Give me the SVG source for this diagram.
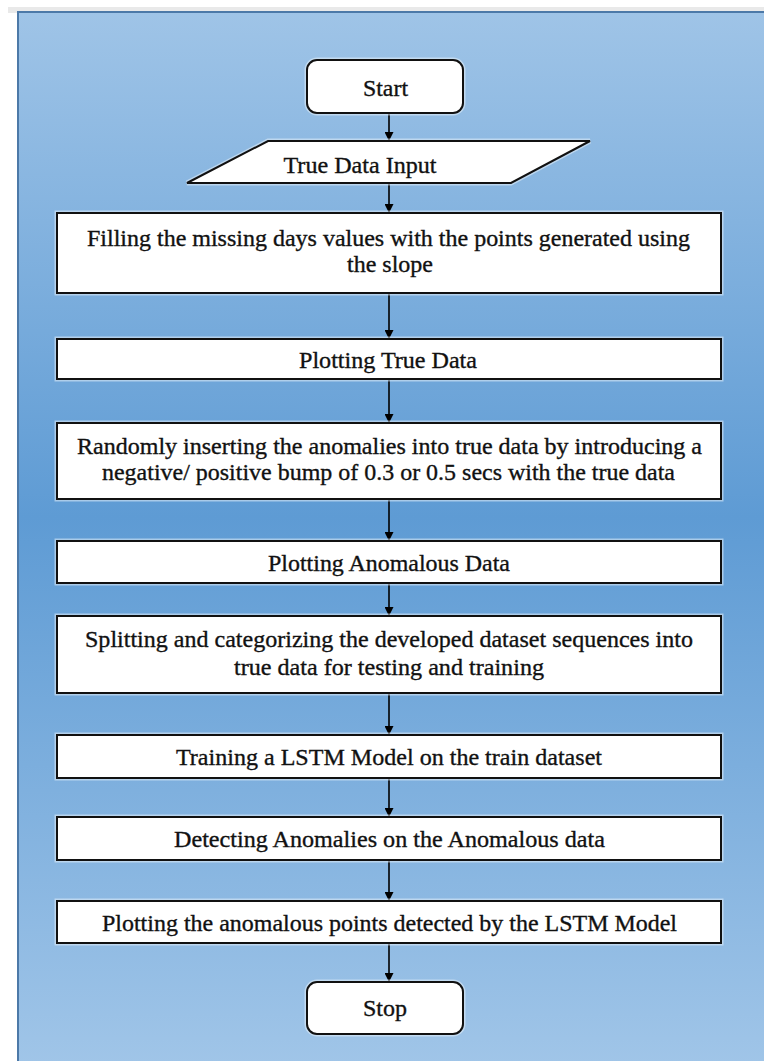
<svg xmlns="http://www.w3.org/2000/svg" width="764" height="1061" viewBox="0 0 764 1061">
  <defs>
    <linearGradient id="bg" x1="0" y1="0" x2="0" y2="1">
      <stop offset="0" stop-color="#9fc4e7"/>
      <stop offset="0.48" stop-color="#5e9bd4"/>
      <stop offset="1" stop-color="#a0c5e8"/>
    </linearGradient>
    <marker id="arr" viewBox="0 0 10 10" refX="10" refY="5" markerWidth="9" markerHeight="9" markerUnits="userSpaceOnUse" orient="auto">
      <path d="M0,0 L10,5 L0,10 z" fill="#000"/>
    </marker>
  </defs>
  <style>
    .box { fill: #ffffff; stroke: #111111; stroke-width: 2; }
    .halo { fill: none; stroke: #e6f0fa; stroke-width: 5; stroke-opacity: 0.55; }
    .lbl { font-family: "Liberation Serif", "Times New Roman", serif; font-size: 24px; fill: #111111; stroke: #111111; stroke-width: 0.35; text-anchor: middle; }
    .conn { stroke: #000; stroke-width: 1.6; fill: none; marker-end: url(#arr); }
  </style>
  <rect x="0" y="0" width="764" height="1061" fill="#ffffff"/>
  <rect x="8" y="7" width="756" height="6" fill="#e9e9e9"/>
  <rect x="18" y="12" width="748" height="1052" fill="url(#bg)" stroke="#4c79a8" stroke-width="2"/>

  <g id="connectors">
    <line class="conn" x1="389" y1="113" x2="389" y2="141"/>
    <line class="conn" x1="389" y1="183" x2="389" y2="213"/>
    <line class="conn" x1="389" y1="293" x2="389" y2="339"/>
    <line class="conn" x1="389" y1="379" x2="389" y2="423"/>
    <line class="conn" x1="389" y1="499" x2="389" y2="541"/>
    <line class="conn" x1="389" y1="583" x2="389" y2="616"/>
    <line class="conn" x1="389" y1="693" x2="389" y2="735"/>
    <line class="conn" x1="389" y1="778" x2="389" y2="817"/>
    <line class="conn" x1="389" y1="860" x2="389" y2="901"/>
    <line class="conn" x1="389" y1="943" x2="389" y2="982"/>
  </g>

  <g id="start">
    <rect class="halo" x="307" y="60" width="156" height="53" rx="10"/>
    <rect class="box" x="307" y="60" width="156" height="53" rx="10"/>
    <text class="lbl" x="385.5" y="96" textLength="45" lengthAdjust="spacingAndGlyphs">Start</text>
  </g>

  <g id="input">
    <polygon class="halo" points="268,141 590,141 511,183 187,183"/>
    <polygon class="box" points="268,141 590,141 511,183 187,183"/>
    <text class="lbl" x="360" y="172.5" textLength="153" lengthAdjust="spacingAndGlyphs">True Data Input</text>
  </g>

  <g id="fill-missing">
    <rect class="halo" x="57" y="213" width="664" height="80"/>
    <rect class="box" x="57" y="213" width="664" height="80"/>
    <text class="lbl" x="388.5" y="245.5" textLength="603" lengthAdjust="spacingAndGlyphs">Filling the missing days values with the points generated using</text>
    <text class="lbl" x="390" y="271.5" textLength="86" lengthAdjust="spacingAndGlyphs">the slope</text>
  </g>

  <g id="plot-true">
    <rect class="halo" x="57" y="339" width="664" height="40"/>
    <rect class="box" x="57" y="339" width="664" height="40"/>
    <text class="lbl" x="388" y="367.5" textLength="178" lengthAdjust="spacingAndGlyphs">Plotting True Data</text>
  </g>

  <g id="insert-anomalies">
    <rect class="halo" x="57" y="423" width="664" height="76"/>
    <rect class="box" x="57" y="423" width="664" height="76"/>
    <text class="lbl" x="389.5" y="453.5" textLength="625" lengthAdjust="spacingAndGlyphs">Randomly inserting the anomalies into true data by introducing a</text>
    <text class="lbl" x="388.5" y="480" textLength="573" lengthAdjust="spacingAndGlyphs">negative/ positive bump of 0.3 or 0.5 secs with the true data</text>
  </g>

  <g id="plot-anomalous">
    <rect class="halo" x="57" y="541" width="664" height="42"/>
    <rect class="box" x="57" y="541" width="664" height="42"/>
    <text class="lbl" x="389" y="570.5" textLength="242" lengthAdjust="spacingAndGlyphs">Plotting Anomalous Data</text>
  </g>

  <g id="split">
    <rect class="halo" x="57" y="616" width="664" height="77"/>
    <rect class="box" x="57" y="616" width="664" height="77"/>
    <text class="lbl" x="389" y="646.5" textLength="608" lengthAdjust="spacingAndGlyphs">Splitting and categorizing the developed dataset sequences into</text>
    <text class="lbl" x="389" y="674.5" textLength="310" lengthAdjust="spacingAndGlyphs">true data for testing and training</text>
  </g>

  <g id="train">
    <rect class="halo" x="57" y="735" width="664" height="43"/>
    <rect class="box" x="57" y="735" width="664" height="43"/>
    <text class="lbl" x="389" y="764.5" textLength="426" lengthAdjust="spacingAndGlyphs">Training a LSTM Model on the train dataset</text>
  </g>

  <g id="detect">
    <rect class="halo" x="57" y="817" width="664" height="43"/>
    <rect class="box" x="57" y="817" width="664" height="43"/>
    <text class="lbl" x="389.5" y="846.5" textLength="431" lengthAdjust="spacingAndGlyphs">Detecting Anomalies on the Anomalous data</text>
  </g>

  <g id="plot-detected">
    <rect class="halo" x="57" y="901" width="664" height="42"/>
    <rect class="box" x="57" y="901" width="664" height="42"/>
    <text class="lbl" x="389.5" y="930.5" textLength="575" lengthAdjust="spacingAndGlyphs">Plotting the anomalous points detected by the LSTM Model</text>
  </g>

  <g id="stop">
    <rect class="halo" x="307" y="982" width="156" height="52" rx="10"/>
    <rect class="box" x="307" y="982" width="156" height="52" rx="10"/>
    <text class="lbl" x="385" y="1015.5" textLength="44" lengthAdjust="spacingAndGlyphs">Stop</text>
  </g>
</svg>
